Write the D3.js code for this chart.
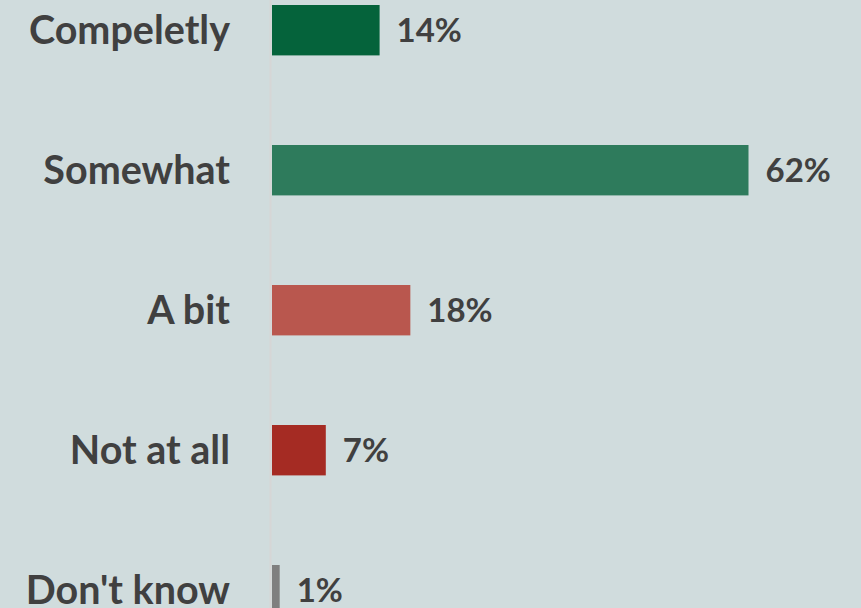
<!DOCTYPE html>
<html>
<head>
<meta charset="utf-8">
<script src="https://cdn.jsdelivr.net/npm/d3@7"></script>
<style>
  body { margin: 0; background: #d0dcdd; }
  svg { display: block; }
  text { font-family: Lato, "Open Sans", sans-serif; font-weight: bold; fill: #404040; }
</style>
</head>
<body>
<div id="chart"></div>
<script>
var categories = ["Compeletly", "Somewhat", "A bit", "Not at all", "Don't know"];
var values = [14, 62, 18, 7, 1];
var labels = ["14%", "62%", "18%", "7%", "1%"];
var colors = ["#05633b", "#2e7b5c", "#b9574e", "#a52b23", "#7f7f7f"];

var width = 861, height = 608;

var svg = d3.select("#chart")
    .append("svg")
    .attr("width", width)
    .attr("height", height);

var x = d3.scaleLinear().domain([0, 62]).range([272, 748.5]);
var y = d3.scaleBand().domain(categories).range([5, 615.4]).paddingInner(0.64).paddingOuter(0);

// axis line
svg.append("line")
    .attr("x1", 270.5).attr("x2", 270.5)
    .attr("y1", 0).attr("y2", height)
    .attr("stroke", "#d6d6d6")
    .attr("stroke-width", 2);

svg.selectAll(".bar")
    .data(values)
    .enter().append("rect")
    .attr("class", "bar")
    .attr("x", x(0))
    .attr("y", function(d, i) { return y(categories[i]); })
    .attr("width", function(d) { return x(d) - x(0); })
    .attr("height", y.bandwidth())
    .attr("fill", function(d, i) { return colors[i]; });

// category labels
svg.selectAll(".cat")
    .data(categories)
    .enter().append("text")
    .attr("class", "cat")
    .attr("x", 230)
    .attr("y", function(d) { return y(d) + y.bandwidth() / 2; })
    .attr("dy", "0.36em")
    .attr("text-anchor", "end")
    .style("font-size", "39.5px")
    .text(function(d) { return d; });

// value labels
svg.selectAll(".val")
    .data(values)
    .enter().append("text")
    .attr("class", "val")
    .attr("x", function(d) { return x(d) + 17; })
    .attr("y", function(d, i) { return y(categories[i]) + y.bandwidth() / 2; })
    .attr("dy", "0.36em")
    .style("font-size", "33px")
    .text(function(d, i) { return labels[i]; });
</script>
</body>
</html>
